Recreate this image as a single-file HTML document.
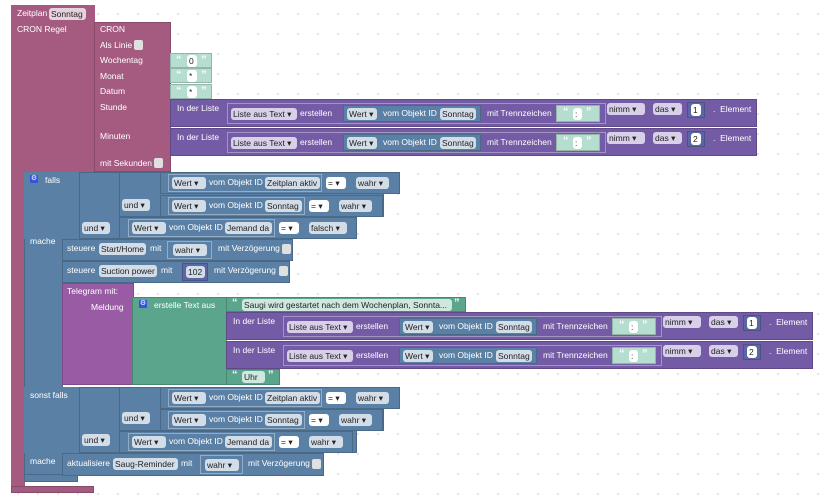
<!DOCTYPE html>
<html><head><meta charset="utf-8"><style>
body{margin:0;width:829px;height:495px;overflow:hidden;background:#fff;background-image:radial-gradient(#d8d8d8 0.8px,transparent 1px);background-size:20px 20px;background-position:8px 4px;position:relative;font-family:"Liberation Sans",sans-serif}
.b{position:absolute;box-sizing:border-box;border:1px solid rgba(0,0,0,.18)}
.t{position:absolute;color:#fff;font-size:8.5px;white-space:nowrap;line-height:11px}
.q{font-size:11px;font-weight:bold;color:#fff}
.f{position:absolute;height:12px;line-height:12px;border-radius:3px;font-size:8.5px;color:#222;padding:0 2px;white-space:nowrap;box-sizing:border-box;overflow:hidden}
.m{background:#e6d2dc}.bl{background:#d3dde8}.pu{background:#d8cfe9}.w{background:#fff}.gr{background:#cfe8df}
.M{background:#a55b80}.B{background:#5b80a5}.P{background:#745ba5}.T{background:#9a5ba5}.G{background:#5ba58c}.N{background:#b5ddd0}.U{background:#5b67a5}
.o{position:absolute;box-sizing:border-box;border:1px solid rgba(255,255,255,.35)}
.cb{position:absolute;width:9px;height:10px;background:#e0e0e0;border-radius:2px}
</style></head><body>

<!-- Zeitplan -->
<div class="b M" style="left:11px;top:5px;width:84px;height:168px;border:none"></div>
<div class="b M" style="left:11px;top:170px;width:14px;height:318px;border:none"></div>
<div class="b M" style="left:11px;top:486px;width:83px;height:7px"></div>
<div class="t" style="left:17px;top:8px">Zeitplan</div><div class="f m" style="left:49px;top:8px;width:37px">Sonntag</div>
<div class="t" style="left:17px;top:24px">CRON Regel</div>
<div class="b M" style="left:94px;top:22px;width:77px;height:150px"></div>
<div class="t" style="left:100px;top:24px">CRON</div>
<div class="t" style="left:100px;top:40px">Als Linie</div><div class="cb" style="left:134px;top:40px"></div>
<div class="t" style="left:100px;top:55px">Wochentag</div>
<div class="t" style="left:100px;top:71px">Monat</div>
<div class="t" style="left:100px;top:86px">Datum</div>
<div class="t" style="left:100px;top:102px">Stunde</div>
<div class="t" style="left:100px;top:131px">Minuten</div>
<div class="t" style="left:100px;top:158px">mit Sekunden</div><div class="cb" style="left:154px;top:158px"></div>
<div class="b N" style="left:170px;top:53px;width:42px;height:15px"></div><div class="t q" style="left:176px;top:55px">“</div><div class="f w" style="left:187px;top:55px;width:10px">0</div><div class="t q" style="left:201px;top:55px">”</div>
<div class="b N" style="left:170px;top:68px;width:42px;height:15px"></div><div class="t q" style="left:176px;top:70px">“</div><div class="f w" style="left:187px;top:70px;width:10px">*</div><div class="t q" style="left:201px;top:70px">”</div>
<div class="b N" style="left:170px;top:84px;width:42px;height:15px"></div><div class="t q" style="left:176px;top:86px">“</div><div class="f w" style="left:187px;top:86px;width:10px">*</div><div class="t q" style="left:201px;top:86px">”</div>

<div class="b P" style="left:170px;top:99px;width:587px;height:28px"></div>
<div class="t" style="left:177px;top:103px">In der Liste</div>
<div class="o" style="left:227px;top:103px;width:379px;height:21px"></div>
<div class="f pu" style="left:231px;top:108px;width:66px">Liste aus Text ▾</div><div class="t" style="left:300px;top:108px">erstellen</div>
<div class="b B" style="left:343px;top:105px;width:138px;height:17px"></div><div class="f bl" style="left:347px;top:108px;width:30px">Wert ▾</div><div class="t" style="left:383px;top:108px">vom Objekt ID</div><div class="f bl" style="left:440px;top:108px;width:36px">Sonntag</div>
<div class="t" style="left:487px;top:108px">mit Trennzeichen</div>
<div class="b N" style="left:556px;top:105px;width:44px;height:17px"></div><div class="t q" style="left:563px;top:107px">“</div><div class="f w" style="left:573px;top:108px;width:9px">:</div><div class="t q" style="left:586px;top:107px">”</div>
<div class="f pu" style="left:607px;top:103px;width:38px">nimm ▾</div><div class="f pu" style="left:653px;top:103px;width:29px">das ▾</div>
<div class="b U" style="left:687px;top:102px;width:18px;height:16px"></div><div class="f w" style="left:691px;top:104px;width:10px">1</div><div class="t" style="left:713px;top:104px">.&nbsp; Element</div>

<div class="b P" style="left:170px;top:128px;width:587px;height:28px"></div>
<div class="t" style="left:177px;top:132px">In der Liste</div>
<div class="o" style="left:227px;top:132px;width:379px;height:21px"></div>
<div class="f pu" style="left:231px;top:137px;width:66px">Liste aus Text ▾</div><div class="t" style="left:300px;top:137px">erstellen</div>
<div class="b B" style="left:343px;top:134px;width:138px;height:17px"></div><div class="f bl" style="left:347px;top:137px;width:30px">Wert ▾</div><div class="t" style="left:383px;top:137px">vom Objekt ID</div><div class="f bl" style="left:440px;top:137px;width:36px">Sonntag</div>
<div class="t" style="left:487px;top:137px">mit Trennzeichen</div>
<div class="b N" style="left:556px;top:134px;width:44px;height:17px"></div><div class="t q" style="left:563px;top:136px">“</div><div class="f w" style="left:573px;top:137px;width:9px">:</div><div class="t q" style="left:586px;top:136px">”</div>
<div class="f pu" style="left:607px;top:132px;width:38px">nimm ▾</div><div class="f pu" style="left:653px;top:132px;width:29px">das ▾</div>
<div class="b U" style="left:687px;top:131px;width:18px;height:16px"></div><div class="f w" style="left:691px;top:133px;width:10px">2</div><div class="t" style="left:713px;top:133px">.&nbsp; Element</div>

<!-- IF block -->
<div class="b B" style="left:24px;top:172px;width:39px;height:309px"></div>
<div class="b B" style="left:24px;top:172px;width:56px;height:67px;border:none"></div>
<div class="b B" style="left:24px;top:387px;width:56px;height:66px;border:none"></div>
<div class="b B" style="left:24px;top:474px;width:54px;height:8px"></div>
<div style="position:absolute;left:30px;top:175px;width:8px;height:8px;background:#3355dd;border-radius:1px;color:#fff;font-size:7px;line-height:8px;text-align:center">⚙</div>
<div class="t" style="left:45px;top:175px">falls</div>
<div class="t" style="left:30px;top:236px">mache</div>
<div class="t" style="left:30px;top:390px">sonst falls</div>
<div class="t" style="left:30px;top:456px">mache</div>

<div class="b B" style="left:79px;top:172px;width:278px;height:67px"></div>
<div class="b B" style="left:119px;top:172px;width:265px;height:45px"></div>
<div class="f bl" style="left:82px;top:222px;width:28px">und ▾</div>
<div class="f bl" style="left:122px;top:199px;width:28px">und ▾</div>
<div class="b B" style="left:160px;top:172px;width:240px;height:22px"></div>
<div class="o" style="left:168px;top:174px;width:154px;height:18px"></div>
<div class="f bl" style="left:172px;top:177px;width:34px">Wert ▾</div><div class="t" style="left:209px;top:177px">vom Objekt ID</div><div class="f bl" style="left:265px;top:177px;width:55px">Zeitplan aktiv</div>
<div class="f w" style="left:326px;top:177px;width:20px">= ▾</div><div class="f bl" style="left:356px;top:177px;width:33px">wahr ▾</div>
<div class="b B" style="left:160px;top:195px;width:223px;height:22px"></div>
<div class="o" style="left:168px;top:197px;width:137px;height:18px"></div>
<div class="f bl" style="left:172px;top:200px;width:34px">Wert ▾</div><div class="t" style="left:209px;top:200px">vom Objekt ID</div><div class="f bl" style="left:265px;top:200px;width:37px">Sonntag</div>
<div class="f w" style="left:309px;top:200px;width:20px">= ▾</div><div class="f bl" style="left:339px;top:200px;width:33px">wahr ▾</div>
<div class="b B" style="left:119px;top:217px;width:238px;height:22px"></div>
<div class="o" style="left:128px;top:219px;width:147px;height:18px"></div>
<div class="f bl" style="left:132px;top:222px;width:34px">Wert ▾</div><div class="t" style="left:169px;top:222px">vom Objekt ID</div><div class="f bl" style="left:225px;top:222px;width:47px">Jemand da</div>
<div class="f w" style="left:279px;top:222px;width:20px">= ▾</div><div class="f bl" style="left:309px;top:222px;width:38px">falsch ▾</div>

<div class="b B" style="left:62px;top:239px;width:231px;height:22px"></div>
<div class="t" style="left:67px;top:243px">steuere</div><div class="f bl" style="left:99px;top:243px;width:47px">Start/Home</div><div class="t" style="left:150px;top:243px">mit</div>
<div class="o" style="left:167px;top:241px;width:45px;height:18px"></div><div class="f bl" style="left:173px;top:244px;width:34px">wahr ▾</div>
<div class="t" style="left:218px;top:243px">mit Verzögerung</div><div class="cb" style="left:282px;top:244px"></div>
<div class="b B" style="left:62px;top:261px;width:228px;height:22px"></div>
<div class="t" style="left:67px;top:265px">steuere</div><div class="f bl" style="left:99px;top:265px;width:58px">Suction power</div><div class="t" style="left:161px;top:265px">mit</div>
<div class="b U" style="left:182px;top:263px;width:26px;height:18px"></div><div class="f bl" style="left:186px;top:266px;width:19px">102</div>
<div class="t" style="left:214px;top:265px">mit Verzögerung</div><div class="cb" style="left:279px;top:266px"></div>

<div class="b T" style="left:62px;top:283px;width:72px;height:102px"></div>
<div class="t" style="left:67px;top:286px">Telegram mit:</div>
<div class="t" style="left:91px;top:302px">Meldung</div>
<div class="b G" style="left:132px;top:297px;width:95px;height:88px"></div>
<div style="position:absolute;left:139px;top:300px;width:8px;height:8px;background:#3355dd;border-radius:1px;color:#fff;font-size:7px;line-height:8px;text-align:center">⚙</div>
<div class="t" style="left:154px;top:300px">erstelle Text aus</div>
<div class="b G" style="left:226px;top:297px;width:240px;height:15px"></div>
<div class="t q" style="left:232px;top:298px">“</div><div class="f gr" style="left:242px;top:299px;width:210px">Saugi wird gestartet nach dem Wochenplan, Sonnta...</div><div class="t q" style="left:454px;top:298px">”</div>

<div class="b P" style="left:226px;top:312px;width:587px;height:28px"></div>
<div class="t" style="left:233px;top:316px">In der Liste</div>
<div class="o" style="left:283px;top:316px;width:379px;height:21px"></div>
<div class="f pu" style="left:287px;top:321px;width:66px">Liste aus Text ▾</div><div class="t" style="left:356px;top:321px">erstellen</div>
<div class="b B" style="left:399px;top:318px;width:138px;height:17px"></div><div class="f bl" style="left:403px;top:321px;width:30px">Wert ▾</div><div class="t" style="left:439px;top:321px">vom Objekt ID</div><div class="f bl" style="left:496px;top:321px;width:36px">Sonntag</div>
<div class="t" style="left:543px;top:321px">mit Trennzeichen</div>
<div class="b N" style="left:612px;top:318px;width:44px;height:17px"></div><div class="t q" style="left:619px;top:320px">“</div><div class="f w" style="left:629px;top:321px;width:9px">:</div><div class="t q" style="left:642px;top:320px">”</div>
<div class="f pu" style="left:663px;top:316px;width:38px">nimm ▾</div><div class="f pu" style="left:709px;top:316px;width:29px">das ▾</div>
<div class="b U" style="left:743px;top:315px;width:18px;height:16px"></div><div class="f w" style="left:747px;top:317px;width:10px">1</div><div class="t" style="left:769px;top:317px">.&nbsp; Element</div>

<div class="b P" style="left:226px;top:341px;width:587px;height:28px"></div>
<div class="t" style="left:233px;top:345px">In der Liste</div>
<div class="o" style="left:283px;top:345px;width:379px;height:21px"></div>
<div class="f pu" style="left:287px;top:350px;width:66px">Liste aus Text ▾</div><div class="t" style="left:356px;top:350px">erstellen</div>
<div class="b B" style="left:399px;top:347px;width:138px;height:17px"></div><div class="f bl" style="left:403px;top:350px;width:30px">Wert ▾</div><div class="t" style="left:439px;top:350px">vom Objekt ID</div><div class="f bl" style="left:496px;top:350px;width:36px">Sonntag</div>
<div class="t" style="left:543px;top:350px">mit Trennzeichen</div>
<div class="b N" style="left:612px;top:347px;width:44px;height:17px"></div><div class="t q" style="left:619px;top:349px">“</div><div class="f w" style="left:629px;top:350px;width:9px">:</div><div class="t q" style="left:642px;top:349px">”</div>
<div class="f pu" style="left:663px;top:345px;width:38px">nimm ▾</div><div class="f pu" style="left:709px;top:345px;width:29px">das ▾</div>
<div class="b U" style="left:743px;top:344px;width:18px;height:16px"></div><div class="f w" style="left:747px;top:346px;width:10px">2</div><div class="t" style="left:769px;top:346px">.&nbsp; Element</div>

<div class="b G" style="left:226px;top:369px;width:54px;height:16px"></div>
<div class="t q" style="left:232px;top:370px">“</div><div class="f gr" style="left:242px;top:371px;width:23px">Uhr</div><div class="t q" style="left:268px;top:370px">”</div>

<div class="b B" style="left:79px;top:387px;width:278px;height:66px"></div>
<div class="b B" style="left:119px;top:387px;width:265px;height:44px"></div>
<div class="f bl" style="left:82px;top:434px;width:28px">und ▾</div>
<div class="f bl" style="left:122px;top:412px;width:28px">und ▾</div>
<div class="b B" style="left:160px;top:387px;width:240px;height:22px"></div>
<div class="o" style="left:168px;top:389px;width:154px;height:18px"></div>
<div class="f bl" style="left:172px;top:392px;width:34px">Wert ▾</div><div class="t" style="left:209px;top:392px">vom Objekt ID</div><div class="f bl" style="left:265px;top:392px;width:55px">Zeitplan aktiv</div>
<div class="f w" style="left:326px;top:392px;width:20px">= ▾</div><div class="f bl" style="left:356px;top:392px;width:33px">wahr ▾</div>
<div class="b B" style="left:160px;top:409px;width:223px;height:22px"></div>
<div class="o" style="left:168px;top:411px;width:137px;height:18px"></div>
<div class="f bl" style="left:172px;top:414px;width:34px">Wert ▾</div><div class="t" style="left:209px;top:414px">vom Objekt ID</div><div class="f bl" style="left:265px;top:414px;width:37px">Sonntag</div>
<div class="f w" style="left:309px;top:414px;width:20px">= ▾</div><div class="f bl" style="left:339px;top:414px;width:33px">wahr ▾</div>
<div class="b B" style="left:119px;top:431px;width:234px;height:22px"></div>
<div class="o" style="left:128px;top:433px;width:147px;height:18px"></div>
<div class="f bl" style="left:132px;top:436px;width:34px">Wert ▾</div><div class="t" style="left:169px;top:436px">vom Objekt ID</div><div class="f bl" style="left:225px;top:436px;width:47px">Jemand da</div>
<div class="f w" style="left:279px;top:436px;width:20px">= ▾</div><div class="f bl" style="left:309px;top:436px;width:34px">wahr ▾</div>

<div class="b B" style="left:62px;top:453px;width:262px;height:23px"></div>
<div class="t" style="left:67px;top:458px">aktualisiere</div><div class="f bl" style="left:113px;top:458px;width:65px">Saug-Reminder</div><div class="t" style="left:181px;top:458px">mit</div>
<div class="o" style="left:200px;top:455px;width:43px;height:19px"></div><div class="f bl" style="left:205px;top:459px;width:34px">wahr ▾</div>
<div class="t" style="left:248px;top:458px">mit Verzögerung</div><div class="cb" style="left:312px;top:459px"></div>
</body></html>
